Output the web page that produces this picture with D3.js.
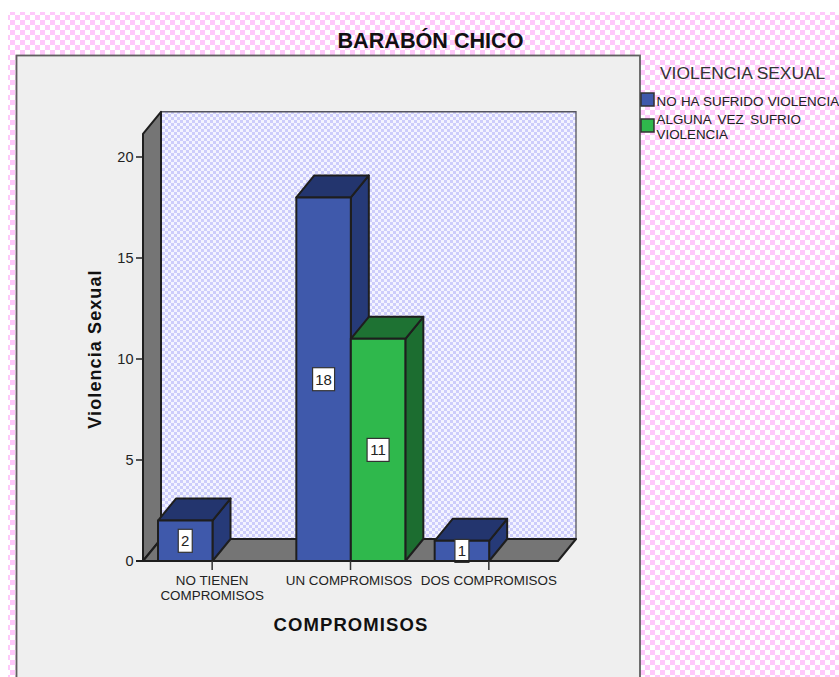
<!DOCTYPE html>
<html><head><meta charset="utf-8">
<script src="https://cdn.jsdelivr.net/npm/d3@7"></script>
<style>html,body{margin:0;padding:0;background:#fff}svg{display:block}text{font-family:"Liberation Sans",Arial,sans-serif}</style>
</head><body><div id="chart"></div>
<script>
const categories=[["NO TIENEN","COMPROMISOS"],["UN COMPROMISOS"],["DOS COMPROMISOS"]];
const categoryKeys=["NO TIENEN COMPROMISOS","UN COMPROMISOS","DOS COMPROMISOS"];
const seriesNames=["NO HA SUFRIDO VIOLENCIA","ALGUNA VEZ SUFRIO VIOLENCIA"];
const noViolencia=[2,18,1];
const algunaVez=[0,11,0];
const yTicks=[0,5,10,15,20];
const colors=[{front:"#3f59ab",top:"#23356e",side:"#263a78"},{front:"#2fb84c",top:"#1e7233",side:"#1c6d30"}];

const W=839,H=677;
const svg=d3.select("#chart").append("svg").attr("width",W).attr("height",H);
const defs=svg.append("defs");
function checker(id,size,bg,fg){
  const p=defs.append("pattern").attr("id",id).attr("width",size*2).attr("height",size*2).attr("patternUnits","userSpaceOnUse");
  p.append("rect").attr("width",size*2).attr("height",size*2).attr("fill",bg);
  p.append("rect").attr("width",size).attr("height",size).attr("fill",fg);
  p.append("rect").attr("x",size).attr("y",size).attr("width",size).attr("height",size).attr("fill",fg);
}
checker("pink",5,"#ffffff","#ffc9fb");
checker("blueck",3,"#f4f4ff","#cdcdfb");

svg.append("rect").attr("x",8).attr("y",12).attr("width",W-8).attr("height",H-12).attr("fill","url(#pink)");
svg.append("rect").attr("x",16.5).attr("y",55.5).attr("width",623.5).attr("height",H).attr("fill","#efefef").attr("stroke","#5f5f5f").attr("stroke-width",1.8);

const dx=18,dy=-22;
const y=d3.scaleLinear().domain([0,20]).range([561,157]);
const x0=d3.scaleBand().domain(categoryKeys).range([143,558]);
const x1=d3.scaleBand().domain(seriesNames).range([15,124]);
const wallTop=y(21.15);
const xL=x0.range()[0],xR=x0.range()[1];
const lineGen=d3.line();
const frame={stroke:"#1e1e1e","stroke-width":2,"stroke-linejoin":"round"};
function poly(pts,fill,st=frame){
  const p=svg.append("path").attr("d",lineGen(pts)+"Z").attr("fill",fill);
  Object.entries(st).forEach(([k,v])=>p.attr(k,v));
  return p;
}
// back wall
poly([[xL+dx,y(0)+dy],[xL+dx,wallTop+dy],[xR+dx,wallTop+dy],[xR+dx,y(0)+dy]],"url(#blueck)",{stroke:"#55555f","stroke-width":1.3});
// left wall
poly([[xL,y(0)],[xL,wallTop],[xL+dx,wallTop+dy],[xL+dx,y(0)+dy]],"#757575");
// floor
poly([[xL,y(0)],[xL+dx,y(0)+dy],[xR+dx,y(0)+dy],[xR,y(0)]],"#757575");

// axes ticks
const gy=svg.append("g");
gy.selectAll("line").data(yTicks).join("line")
  .attr("x1",xL-7).attr("x2",xL).attr("y1",d=>y(d)).attr("y2",d=>y(d)).attr("stroke","#222").attr("stroke-width",1.5);
gy.selectAll("text").data(yTicks).join("text")
  .attr("x",xL-9.5).attr("y",d=>y(d)+5).attr("text-anchor","end").attr("font-size",14.5).attr("fill","#222").text(d=>d);

// bars
const rows=[];
categoryKeys.forEach((c,i)=>{
  [noViolencia[i],algunaVez[i]].forEach((v,s)=>{ if(v>0) rows.push({c,s,v}); });
});
rows.forEach(r=>{
  const a=x0(r.c)+x1(seriesNames[r.s]),b=a+x1.bandwidth(),t=y(r.v),base=y(0),col=colors[r.s];
  poly([[b,base],[b,t],[b+dx,t+dy],[b+dx,base+dy]],col.side);
  poly([[a,t],[a+dx,t+dy],[b+dx,t+dy],[b,t]],col.top);
  poly([[a,base],[a,t],[b,t],[b,base]],col.front);
});
// value labels
rows.forEach(r=>{
  const a=x0(r.c)+x1(seriesNames[r.s]),cx=a+x1.bandwidth()/2,cy=(y(r.v)+y(0))/2;
  const w=String(r.v).length>1?22:14,h=23;
  svg.append("rect").attr("x",cx-w/2).attr("y",cy-h/2).attr("width",w).attr("height",h).attr("fill","#fff").attr("stroke","#333").attr("stroke-width",1.2);
  svg.append("text").attr("x",cx).attr("y",cy+5.5).attr("text-anchor","middle").attr("font-size",15).attr("fill","#222").text(r.v);
});
// x axis
svg.append("line").attr("x1",xL-7).attr("x2",xR).attr("y1",y(0)).attr("y2",y(0)).attr("stroke","#1e1e1e").attr("stroke-width",2);
categoryKeys.forEach((c,i)=>{
  const cx=x0(c)+x0.bandwidth()/2;
  svg.append("line").attr("x1",cx).attr("x2",cx).attr("y1",y(0)).attr("y2",y(0)+9).attr("stroke","#333").attr("stroke-width",1.5);
  categories[i].forEach((l,j)=>{
    svg.append("text").attr("x",i===1?cx-1.5:cx).attr("y",585+j*15).attr("text-anchor","middle").attr("font-size",13.4).attr("fill","#222").text(l);
  });
});
// titles
svg.append("text").attr("x",430.5).attr("y",48).attr("text-anchor","middle").attr("font-size",21.6).attr("font-weight","bold").attr("fill","#111").text("BARABÓN CHICO");
svg.append("text").attr("x",351).attr("y",631).attr("text-anchor","middle").attr("font-size",18.5).attr("letter-spacing",1.1).attr("font-weight","bold").attr("fill","#111").text("COMPROMISOS");
svg.append("text").attr("transform","translate(101,349) rotate(-90)").attr("text-anchor","middle").attr("font-size",18).attr("letter-spacing",1.1).attr("font-weight","bold").attr("fill","#111").text("Violencia Sexual");
// legend
svg.append("text").attr("x",660).attr("y",79).attr("font-size",17.4).attr("fill","#333").text("VIOLENCIA SEXUAL");
const legendRows=[{y:93,lines:["NO HA SUFRIDO VIOLENCIA"],ty:[106],ws:0.6},{y:119,lines:["ALGUNA VEZ SUFRIO","VIOLENCIA"],ty:[124,139],ws:3}];
legendRows.forEach((l,i)=>{
  svg.append("rect").attr("x",641).attr("y",l.y).attr("width",13).attr("height",13).attr("fill",colors[i].front).attr("stroke","#333").attr("stroke-width",1.5);
  l.lines.forEach((t,j)=>svg.append("text").attr("x",656.5).attr("y",l.ty[j]).attr("font-size",13.4).attr("word-spacing",l.ws).attr("fill","#222").text(t));
});
</script></body></html>
